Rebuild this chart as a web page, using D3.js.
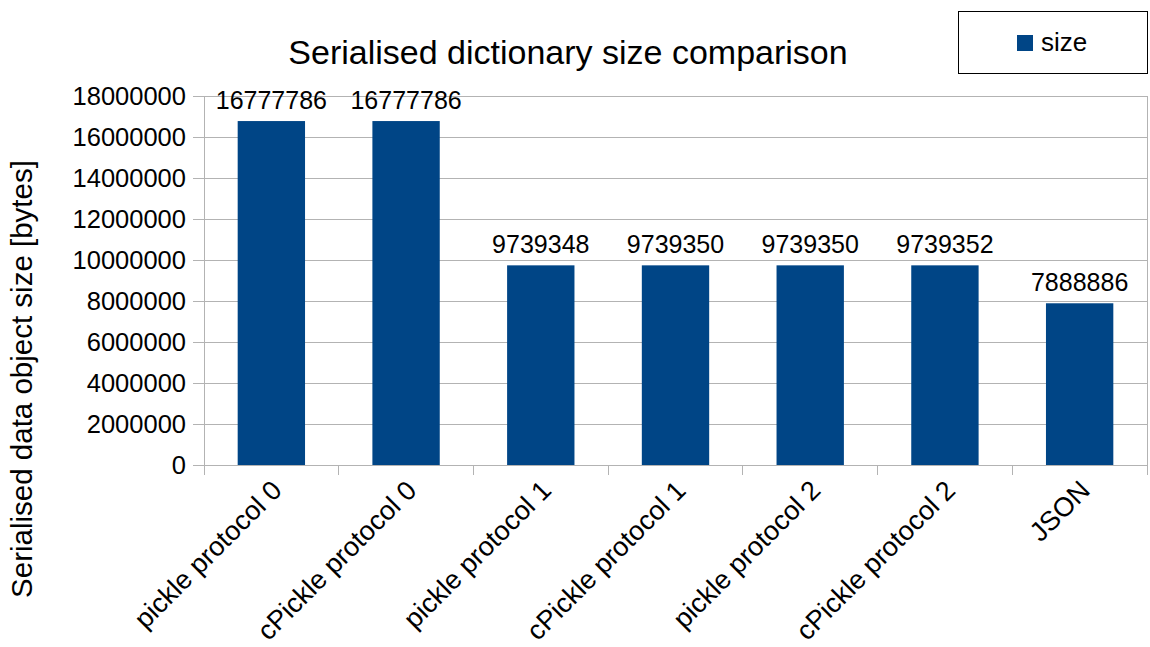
<!DOCTYPE html>
<html>
<head>
<meta charset="utf-8">
<script src="https://cdn.jsdelivr.net/npm/d3@7"></script>
<style>
  body { margin: 0; background: #fff; }
  text { font-family: "Liberation Sans", Arial, sans-serif; fill: #000; }
</style>
</head>
<body>
<svg id="chart" width="1150" height="647"></svg>
<script>
const categories = ["pickle protocol 0", "cPickle protocol 0", "pickle protocol 1", "cPickle protocol 1",
                    "pickle protocol 2", "cPickle protocol 2", "JSON"];
const sizes = [16777786, 16777786, 9739348, 9739350, 9739350, 9739352, 7888886];
const yTicks = [0, 2000000, 4000000, 6000000, 8000000, 10000000, 12000000, 14000000, 16000000, 18000000];

const svg = d3.select("#chart");
const plot = { left: 204, right: 1147, top: 96, bottom: 465 };
const barColor = "#004586";
const gridColor = "#b3b3b3";

const x = d3.scaleBand().domain(categories).range([plot.left, plot.right]).paddingInner(0.5).paddingOuter(0.25);
const xEdge = d3.scaleLinear().domain([0, categories.length]).range([plot.left, plot.right]);
const y = d3.scaleLinear().domain([0, 18000000]).range([plot.bottom, plot.top]);

// horizontal gridlines (extend left as tick marks)
svg.append("g").selectAll("line").data(yTicks).join("line")
  .attr("x1", plot.left - 11).attr("x2", plot.right)
  .attr("y1", d => y(d)).attr("y2", d => y(d))
  .attr("stroke", gridColor).attr("stroke-width", 1).attr("shape-rendering", "crispEdges");

// vertical axis line, right border and category separators
svg.append("line").attr("x1", plot.left).attr("x2", plot.left)
  .attr("y1", plot.top).attr("y2", plot.bottom + 10)
  .attr("stroke", gridColor).attr("shape-rendering", "crispEdges");
svg.append("line").attr("x1", plot.right).attr("x2", plot.right)
  .attr("y1", plot.top).attr("y2", plot.bottom)
  .attr("stroke", gridColor).attr("shape-rendering", "crispEdges");
svg.append("g").selectAll("line").data(d3.range(1, categories.length + 1)).join("line")
  .attr("x1", d => xEdge(d)).attr("x2", d => xEdge(d))
  .attr("y1", plot.bottom).attr("y2", plot.bottom + 10)
  .attr("stroke", gridColor).attr("shape-rendering", "crispEdges");

// y tick labels
svg.append("g").selectAll("text").data(yTicks).join("text")
  .attr("x", plot.left - 18).attr("y", d => y(d) + 9)
  .attr("text-anchor", "end").attr("font-size", 25.5)
  .text(d => d);

// bars
svg.append("g").selectAll("rect").data(sizes).join("rect")
  .attr("x", (d, i) => x(categories[i]))
  .attr("width", x.bandwidth())
  .attr("y", d => y(d))
  .attr("height", d => y(0) - y(d))
  .attr("fill", barColor);

// value labels
svg.append("g").selectAll("text").data(sizes).join("text")
  .attr("x", (d, i) => x(categories[i]) + x.bandwidth() / 2)
  .attr("y", d => y(d) - 12)
  .attr("text-anchor", "middle").attr("font-size", 25)
  .text(d => d);

// category labels, rotated
svg.append("g").selectAll("text").data(categories).join("text")
  .attr("transform", d => `translate(${x(d) + x.bandwidth() / 2 + 12},${plot.bottom + 27}) rotate(-45)`)
  .attr("text-anchor", "end").attr("font-size", 27)
  .text(d => d);

// axis title
svg.append("text")
  .attr("transform", `translate(32,379) rotate(-90)`)
  .attr("text-anchor", "middle").attr("font-size", 29.5)
  .text("Serialised data object size [bytes]");

// chart title
svg.append("text")
  .attr("x", 568).attr("y", 64)
  .attr("text-anchor", "middle").attr("font-size", 34)
  .text("Serialised dictionary size comparison");

// legend
const legend = svg.append("g");
legend.append("rect").attr("x", 958.5).attr("y", 11.5).attr("width", 189).attr("height", 62)
  .attr("fill", "#fff").attr("stroke", "#000").attr("stroke-width", 1);
legend.append("rect").attr("x", 1017).attr("y", 35).attr("width", 16).attr("height", 16)
  .attr("fill", barColor);
legend.append("text").attr("x", 1041).attr("y", 51).attr("font-size", 26).text("size");
</script>
</body>
</html>
